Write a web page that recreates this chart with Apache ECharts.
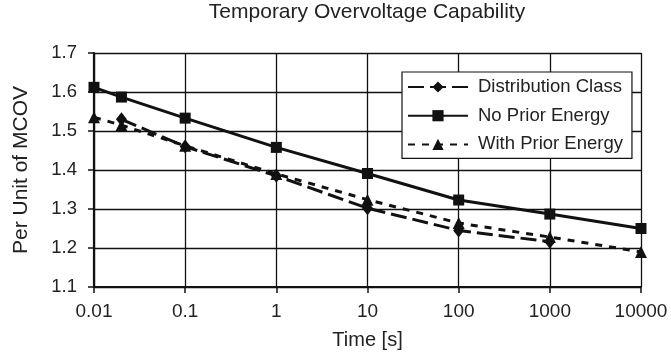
<!DOCTYPE html>
<html>
<head>
<meta charset="utf-8">
<script src="https://cdn.jsdelivr.net/npm/echarts@6/dist/echarts.min.js"></script>
<style>html,body{margin:0;padding:0;background:#fff;}#c{width:671px;height:358px;}</style>
</head>
<body>
<div id="c"></div>
<script>
const times = [0.01, 0.02, 0.1, 1, 10, 100, 1000, 10000];
const distributionClass = [null, 1.53, 1.46, 1.385, 1.302, 1.245, 1.216, null];
const noPriorEnergy = [1.612, 1.587, 1.533, 1.458, 1.391, 1.323, 1.287, 1.25];
const withPriorEnergy = [1.535, 1.515, 1.462, 1.39, 1.324, 1.264, 1.228, 1.19];
const xTickLabels = ['0.01', '0.1', '1', '10', '100', '1000', '10000'];
const yTickLabels = ['1.1', '1.2', '1.3', '1.4', '1.5', '1.6', '1.7'];

function pairs(vals) {
  return times.map((t, i) => [t, vals[i]]).filter(p => p[1] !== null);
}
const font = 'Arial, "Liberation Sans", sans-serif';
const ink = '#111';
const txt = '#222';
const chart = echarts.init(document.getElementById('c'), null, {renderer: 'canvas'});
chart.setOption({
  animation: false,
  backgroundColor: '#fff',
  title: {
    text: 'Temporary Overvoltage Capability',
    left: 367, top: 2, textAlign: 'center', padding: 0,
    textStyle: {fontFamily: font, fontSize: 21, fontWeight: 'normal', color: txt}
  },
  grid: {left: 94, right: 30, top: 53, bottom: 71},
  legend: {
    orient: 'vertical',
    left: 402, top: 72,
    padding: [5, 9, 4, 5],
    itemGap: 8.7,
    itemWidth: 60, itemHeight: 14,
    backgroundColor: '#fff',
    borderColor: ink, borderWidth: 1.2,
    textStyle: {fontFamily: font, fontSize: 18.5, lineHeight: 20, color: txt, padding: [0, 0, 0, 5]},
    data: ['Distribution Class', 'No Prior Energy', 'With Prior Energy']
  },
  xAxis: {
    type: 'log', logBase: 10, min: 0.01, max: 10000,
    name: 'Time [s]', nameLocation: 'middle', nameGap: 43,
    nameTextStyle: {fontFamily: font, fontSize: 20, color: txt},
    axisLine: {lineStyle: {color: ink, width: 2.2}},
    axisTick: {show: true, length: 6, lineStyle: {color: ink, width: 1.5}},
    minorTick: {show: false},
    splitLine: {show: true, lineStyle: {color: ink, width: 1.3}},
    axisLabel: {
      fontFamily: font, fontSize: 19, color: txt, margin: 15,
      formatter: v => {
        const idx = Math.round(Math.log10(v)) + 2;
        return xTickLabels[idx] !== undefined ? xTickLabels[idx] : '';
      }
    }
  },
  yAxis: {
    type: 'value', min: 1.1, max: 1.7, interval: 0.1,
    name: 'Per Unit of MCOV', nameLocation: 'middle', nameGap: 62,
    nameTextStyle: {fontFamily: font, fontSize: 21, color: txt},
    axisLine: {show: true, lineStyle: {color: ink, width: 2.2}},
    axisTick: {show: true, length: 6, lineStyle: {color: ink, width: 1.5}},
    splitLine: {show: true, lineStyle: {color: ink, width: 1.3}},
    axisLabel: {
      fontFamily: font, fontSize: 18.5, color: txt, margin: 17,
      formatter: v => {
        const idx = Math.round((v - 1.1) * 10);
        return yTickLabels[idx] !== undefined ? yTickLabels[idx] : '';
      }
    }
  },
  series: [
    {
      name: 'Distribution Class', type: 'line', data: pairs(distributionClass),
      symbol: 'diamond', symbolSize: [11, 14], z: 3,
      itemStyle: {color: ink},
      lineStyle: {color: ink, width: 3, type: [16, 6]}
    },
    {
      name: 'No Prior Energy', type: 'line', data: pairs(noPriorEnergy),
      symbol: 'rect', symbolSize: 11, z: 4,
      itemStyle: {color: ink},
      lineStyle: {color: ink, width: 3, type: 'solid'}
    },
    {
      name: 'With Prior Energy', type: 'line', data: pairs(withPriorEnergy),
      symbol: 'triangle', symbolSize: 12, z: 5,
      itemStyle: {color: ink},
      lineStyle: {color: ink, width: 3, type: [7, 7]}
    }
  ]
});
</script>
</body>
</html>
